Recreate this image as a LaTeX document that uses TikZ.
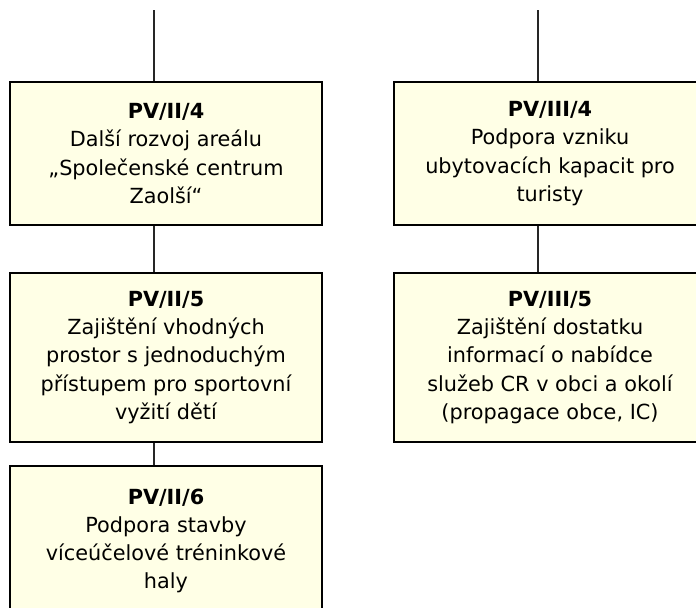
\documentclass[tikz,border=0pt]{standalone}
\usepackage{fontspec}
\setmainfont{DejaVu Sans}
\usetikzlibrary{arrows}
\definecolor{boxfill}{RGB}{255,255,230}

\begin{document}
\begin{tikzpicture}[x=0.75pt, y=-0.75pt]
    \tikzset{cbox/.style={rectangle, line width=1.9pt, draw=black, fill=boxfill, minimum width=234pt, align=center, inner sep=0pt, font=\fontsize{15.6}{21.2}\selectfont}}
    \tikzset{cline/.style={line width=1.4pt, draw=black!85}}
    \clip (0, 0) rectangle (696, 607);
    % Sloupce. Zadáme bloky a spoje mezi nimi:
    \coordinate (ta) at (154, 10);
    \node[cbox, minimum height=107.25pt] (p4) at (166, 153.5) {\textbf{PV/II/4}\\Další rozvoj areálu\\„Společenské centrum\\Zaolší“};
    \node[cbox, minimum height=126.75pt] (p5) at (166, 357.5) {\textbf{PV/II/5}\\Zajištění vhodných\\prostor s jednoduchým\\přístupem pro sportovní\\vyžití dětí};
    \node[cbox, minimum height=112.5pt]  (p6) at (166, 541)   {\textbf{PV/II/6}\\Podpora stavby\\víceúčelové tréninkové\\haly};
    \draw[cline] (ta) -- (ta |- p4.north);
    \draw[cline] (p4.south -| ta) -- (p5.north -| ta);
    \draw[cline] (p5.south -| ta) -- (p6.north -| ta);

    \coordinate (tb) at (538, 10);
    \node[cbox, minimum height=107.25pt] (q4) at (550, 153.5) {\textbf{PV/III/4}\\Podpora vzniku\\ubytovacích kapacit pro\\turisty};
    \node[cbox, minimum height=126.75pt] (q5) at (550, 357.5) {\textbf{PV/III/5}\\Zajištění dostatku\\informací o nabídce\\služeb CR v obci a okolí\\(propagace obce, IC)};
    \draw[cline] (tb) -- (tb |- q4.north);
    \draw[cline] (q4.south -| tb) -- (q5.north -| tb);
\end{tikzpicture}
\end{document}
